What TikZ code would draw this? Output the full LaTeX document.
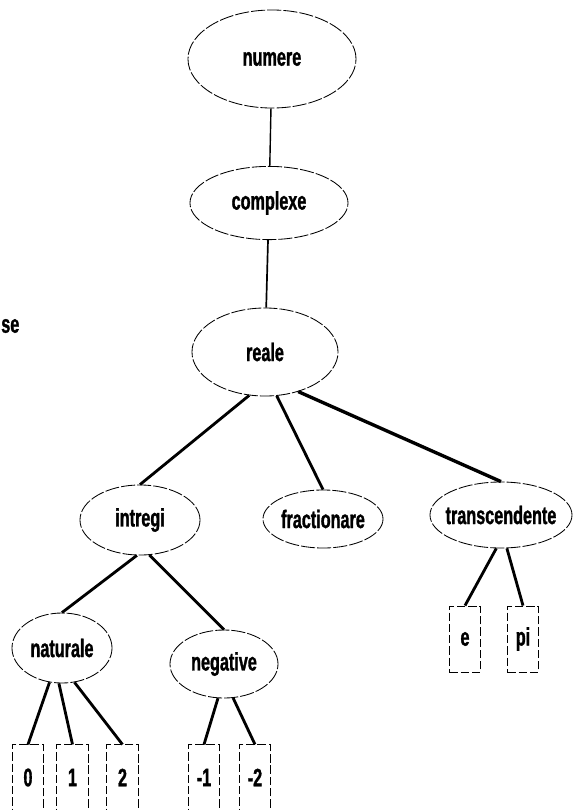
\documentclass[tikz,border=0pt]{standalone}
\usepackage{fontspec}
\newfontfamily\lblfont{Liberation Sans}[FakeStretch=0.64,UprightFont=*-Bold,FakeBold=1.2]
\usepackage{tikz}
\usetikzlibrary{shapes}

\begin{document}
\begin{tikzpicture}[x=0.025cm,y=-0.025cm,
    font=\lblfont\fontsize{18}{20}\selectfont,
    set/.style={ellipse,draw,line width=0.6pt,dash pattern=on 10pt off 1.5pt,inner sep=-14pt},
    elem/.style={rectangle,draw,line width=0.6pt,dash pattern=on 6pt off 2pt,minimum width=0.78cm,minimum height=1.63cm,inner sep=0pt},
    link/.style={line width=2pt}]
            \useasboundingbox (0,0) rectangle (579,810);
            \node[anchor=west,inner sep=0pt](se) at (1,326) {se};
            % sets
            \node[set,minimum width=4.2cm,minimum height=2.45cm](num) at (272,59) {numere};
            \node[set,minimum width=3.95cm,minimum height=1.83cm](cpx) at (269,203) {complexe};
            \node[set,minimum width=3.65cm,minimum height=2.2cm](rea) at (265,352) {reale};
            \node[set,minimum width=3cm,minimum height=1.75cm](intr) at (140,520) {intregi};
            \node[set,minimum width=3cm,minimum height=1.45cm](frac) at (323,519) {fractionare};
            \node[set,minimum width=3.55cm,minimum height=1.65cm](trans) at (501,515) {transcendente};
            \node[set,minimum width=2.5cm,minimum height=1.75cm](nat) at (62,648) {naturale};
            \node[set,minimum width=2.7cm,minimum height=1.7cm](neg) at (224,664) {negative};
            % elements
            \node[elem](z0) at (28,777.5) {0};
            \node[elem](z1) at (72.5,777.5) {1};
            \node[elem](z2) at (122.5,777.5) {2};
            \node[elem](m1) at (204,777.5) {-1};
            \node[elem](m2) at (255,777.5) {-2};
            \node[elem,minimum height=1.65cm](e) at (465,639) {e};
            \node[elem,minimum height=1.65cm](pi) at (523,639) {pi};
            % links
            \draw[link,line width=1pt] (num) -- (cpx);
            \draw[link,line width=1.2pt] (cpx) -- (rea);
            \draw[link] (rea.250) -- (intr.north);
            \draw[link] (rea.285) -- (frac.north);
            \draw[link,line width=2.4pt] (rea.310) -- (trans.north);
            \draw[link] (intr.265) -- (nat.north);
            \draw[link] (intr.285) -- (neg.north);
            \draw[link] (nat.250) -- (z0.north);
            \draw[link] (nat.265) -- (z1.north);
            \draw[link] (nat.290) -- (z2.north);
            \draw[link] (neg.260) -- (m1.north);
            \draw[link] (neg.285) -- (m2.north);
            \draw[link] (trans.262) -- (e.north);
            \draw[link] (trans.280) -- (pi.north);
        \end{tikzpicture}
\end{document}
